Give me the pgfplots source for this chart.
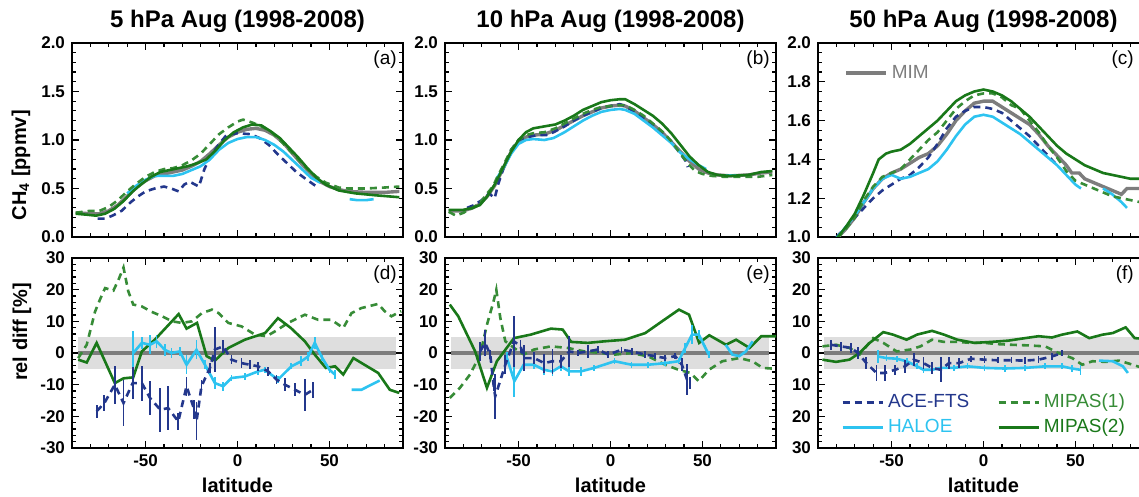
\documentclass[border=0pt]{standalone}
\usepackage{fontspec}
\setmainfont{Liberation Sans}
\usepackage{pgfplots}
\pgfplotsset{compat=1.18}

\definecolor{acecol}{RGB}{35,55,140}
\definecolor{halcol}{RGB}{45,195,240}
\definecolor{mip1col}{RGB}{55,140,55}
\definecolor{mip2col}{RGB}{25,120,25}
\definecolor{mimcol}{RGB}{125,125,125}
\definecolor{bandcol}{RGB}{222,222,222}

\pgfplotsset{
  panel/.style={
    scale only axis, width=165.5pt, anchor=north west,
    xmin=-90, xmax=90,
    xtick={-50,0,50},
    minor xtick={-90,-80,...,90},
    tick align=inside,
    major tick length=3.5pt, minor tick length=2pt,
    every tick/.style={black, line width=0.6pt},
    axis line style={line width=0.9pt},
    /pgf/number format/assume math mode=true,
    ticklabel style={font=\bfseries\fontsize{8.5}{9}\selectfont},
    label style={font=\bfseries\fontsize{10}{11}\selectfont},
    ylabel style={anchor=center},
    legend image code/.code={\draw[##1] (0pt,0pt) -- (20pt,0pt);},
    legend style={draw=none, fill=none, inner sep=0pt,
      font=\fontsize{9.5}{11}\selectfont},
    legend cell align=left,
  },
  toprow/.style={panel, height=97pt,
    ymin=0, ymax=2, ytick={0,0.5,1,1.5,2}, minor ytick={0,0.1,...,2},
    xticklabels={},
    yticklabel style={/pgf/number format/fixed, /pgf/number format/fixed zerofill,
      /pgf/number format/precision=1},
    title style={font=\bfseries\fontsize{12}{14}\selectfont,
      at={(axis description cs:0.5,1)}, anchor=base, yshift=1.5pt},
  },
  botrow/.style={panel, height=95pt,
    ymin=-30, ymax=30, ytick={-30,-20,...,30}, minor ytick={-30,-28,...,30},
    xlabel={latitude},
    xlabel style={at={(axis description cs:0.5,-0.232)}, anchor=base},
  },
  ace/.style={acecol, line width=1.3pt, dash pattern=on 3.5pt off 2.5pt, forget plot},
  hal/.style={halcol, line width=1.3pt, forget plot},
  mip1/.style={mip1col, line width=1.3pt, dash pattern=on 3.5pt off 2.5pt, forget plot},
  mip2/.style={mip2col, line width=1.3pt, forget plot},
  mim/.style={mimcol, line width=1.7pt, forget plot},
  ebar/.style={/pgfplots/error bars/y dir=both, /pgfplots/error bars/y explicit,
    /pgfplots/error bars/error mark=none,
    /pgfplots/error bars/error bar style={solid, line width=0.9pt}},
}
\newcommand{\plab}[2][0.982]{\node[anchor=north east, inner sep=0pt, font=\fontsize{9.5}{11}\selectfont]
  at (rel axis cs:#1,0.964) {#2};}
\newcommand{\band}{%
  \addplot[draw=none, fill=bandcol, forget plot] coordinates {(-87,-5) (86,-5) (86,5) (-87,5)} -- cycle;
  \addplot[mimcol, line width=1.6pt, forget plot] coordinates {(-87,0) (86,0)};}

\begin{document}
\begin{tikzpicture}

% ---------------- (a) 5 hPa
\begin{axis}[toprow, at={(0pt,0pt)}, title={5 hPa Aug (1998-2008)},
  ylabel={CH\textsubscript{4} [ppmv]}, ylabel style={at={(axis description cs:-0.154,0.37)}}]
\addplot[mim] coordinates {(-88,0.25)(-80,0.24)(-75,0.24)(-70,0.27)(-65,0.33)(-60,0.42)(-55,0.51)(-50,0.58)(-45,0.63)(-40,0.65)(-35,0.67)(-30,0.69)(-25,0.73)(-20,0.78)(-15,0.86)(-10,0.95)(-5,1.03)(0,1.08)(5,1.11)(10,1.12)(15,1.1)(20,1.05)(25,0.97)(30,0.86)(35,0.75)(40,0.65)(45,0.57)(50,0.52)(55,0.49)(60,0.47)(70,0.46)(80,0.46)(88,0.47)};
\addplot[ace] coordinates {(-76,0.19)(-72,0.19)(-68,0.22)(-63,0.27)(-58,0.36)(-54,0.42)(-50,0.47)(-45,0.5)(-40,0.52)(-36,0.5)(-32,0.47)(-29,0.54)(-26,0.57)(-23,0.54)(-21,0.52)(-18,0.7)(-15,0.82)(-10,0.96)(-6,1.05)(0,1.07)(7,1.06)(12,1.02)(17,0.95)(22,0.85)(27,0.76)(32,0.67)(37,0.6)(43,0.52)};
\addplot[hal] coordinates {(-60,0.45)(-55,0.53)(-50,0.59)(-45,0.63)(-40,0.63)(-35,0.63)(-30,0.65)(-25,0.69)(-20,0.73)(-15,0.8)(-10,0.9)(-5,0.97)(0,1.01)(5,1.03)(10,1.03)(15,1.0)(20,0.95)(25,0.88)(30,0.79)(35,0.7)(40,0.61)(45,0.56)};
\addplot[hal] coordinates {(61,0.39)(65,0.38)(70,0.38)(74,0.39)};
\addplot[mip1] coordinates {(-88,0.25)(-80,0.27)(-75,0.27)(-70,0.31)(-65,0.38)(-60,0.47)(-55,0.55)(-50,0.62)(-45,0.67)(-40,0.7)(-35,0.71)(-30,0.74)(-25,0.79)(-20,0.86)(-15,0.96)(-10,1.06)(-5,1.13)(0,1.19)(3,1.21)(8,1.18)(13,1.14)(18,1.09)(23,1.0)(28,0.9)(33,0.8)(38,0.7)(43,0.62)(48,0.56)(55,0.51)(60,0.5)(70,0.5)(80,0.51)(88,0.52)};
\addplot[mip2] coordinates {(-88,0.24)(-82,0.23)(-77,0.22)(-72,0.24)(-67,0.29)(-62,0.37)(-57,0.47)(-52,0.55)(-47,0.62)(-42,0.67)(-37,0.69)(-32,0.71)(-27,0.73)(-22,0.76)(-17,0.8)(-12,0.89)(-7,1.0)(-2,1.08)(3,1.13)(8,1.16)(13,1.15)(18,1.09)(23,1.02)(28,0.92)(33,0.82)(38,0.71)(43,0.61)(48,0.54)(55,0.48)(64,0.45)(75,0.43)(88,0.41)};
\plab{(a)}
\end{axis}

% ---------------- (b) 10 hPa
\begin{axis}[toprow, at={(186.5pt,0pt)}, title={10 hPa Aug (1998-2008)}]
\addplot[mim] coordinates {(-88,0.27)(-80,0.27)(-75,0.3)(-71,0.34)(-67,0.42)(-63,0.53)(-58,0.72)(-54,0.88)(-50,0.98)(-46,1.03)(-42,1.05)(-36,1.06)(-30,1.1)(-25,1.15)(-20,1.2)(-15,1.25)(-10,1.29)(-5,1.33)(0,1.35)(5,1.36)(8,1.35)(13,1.3)(18,1.23)(23,1.16)(28,1.08)(33,0.98)(38,0.88)(43,0.78)(48,0.7)(53,0.66)(58,0.64)(65,0.63)(75,0.64)(82,0.66)(88,0.67)};
\addplot[ace] coordinates {(-78,0.3)(-74,0.33)(-70,0.38)(-66,0.45)(-63,0.4)(-61,0.55)(-58,0.72)(-54,0.9)(-50,1.0)(-45,1.03)(-40,1.05)(-35,1.05)(-31,1.08)(-25,1.14)(-20,1.2)(-15,1.25)(-10,1.29)(-5,1.33)(0,1.35)(5,1.37)(8,1.35)(13,1.29)(18,1.22)(23,1.15)(28,1.07)(33,0.98)(38,0.86)(41,0.78)(42,0.72)};
\addplot[hal] coordinates {(-62,0.6)(-58,0.72)(-54,0.86)(-50,0.96)(-46,1.0)(-42,1.01)(-36,1.0)(-31,1.02)(-25,1.08)(-20,1.14)(-15,1.2)(-10,1.25)(-5,1.29)(0,1.31)(5,1.32)(8,1.31)(13,1.27)(18,1.2)(23,1.13)(28,1.05)(33,0.97)(38,0.87)(43,0.8)(48,0.74)(52,0.7)};
\addplot[hal] coordinates {(62,0.64)(68,0.64)(75,0.64)};
\addplot[mip1] coordinates {(-88,0.26)(-84,0.22)(-80,0.25)(-75,0.3)(-71,0.35)(-67,0.45)(-64,0.52)(-62,0.6)(-58,0.75)(-54,0.9)(-50,1.0)(-46,1.05)(-42,1.07)(-36,1.08)(-30,1.12)(-25,1.17)(-20,1.22)(-15,1.27)(-10,1.31)(-5,1.34)(0,1.35)(5,1.36)(8,1.36)(13,1.31)(18,1.25)(23,1.17)(28,1.09)(33,0.99)(38,0.86)(42,0.76)(46,0.68)(50,0.65)(55,0.63)(62,0.62)(70,0.62)(80,0.62)(88,0.64)};
\addplot[mip2] coordinates {(-88,0.28)(-80,0.28)(-75,0.3)(-71,0.33)(-67,0.42)(-63,0.54)(-58,0.73)(-54,0.88)(-50,1.0)(-46,1.08)(-42,1.12)(-36,1.14)(-30,1.16)(-25,1.2)(-20,1.25)(-15,1.31)(-10,1.35)(-5,1.39)(0,1.41)(5,1.42)(8,1.42)(13,1.37)(18,1.31)(23,1.25)(28,1.17)(33,1.07)(38,0.95)(43,0.83)(48,0.74)(53,0.67)(58,0.64)(65,0.63)(75,0.64)(82,0.67)(88,0.68)};
\plab{(b)}
\end{axis}

% ---------------- (c) 50 hPa
\begin{axis}[toprow, at={(373pt,0pt)}, title={50 hPa Aug (1998-2008)},
  ymin=1, ymax=2, ytick={1,1.2,1.4,1.6,1.8,2}, minor ytick={1,1.05,...,2},
  legend style={at={(axis description cs:0.0785,0.845)}, anchor=west}]
\addlegendimage{mimcol, line width=1.7pt}
\addlegendentry{\textcolor{mimcol}{MIM}}
\addplot[mim] coordinates {(-84,0.95)(-80,0.99)(-75,1.04)(-70,1.1)(-65,1.18)(-60,1.25)(-55,1.3)(-50,1.33)(-45,1.35)(-40,1.38)(-35,1.41)(-30,1.43)(-25,1.47)(-20,1.53)(-15,1.6)(-10,1.65)(-5,1.69)(0,1.7)(5,1.7)(10,1.67)(15,1.64)(20,1.61)(25,1.58)(30,1.53)(35,1.47)(40,1.42)(45,1.37)(48,1.33)(52,1.33)(55,1.3)(60,1.28)(65,1.26)(70,1.24)(75,1.22)(78,1.25)(85,1.25)(90,1.24)};
\addplot[ace] coordinates {(-84,0.95)(-80,1.0)(-75,1.05)(-70,1.1)(-65,1.15)(-60,1.2)(-55,1.24)(-50,1.27)(-45,1.3)(-40,1.32)(-35,1.36)(-30,1.41)(-25,1.48)(-20,1.56)(-15,1.62)(-10,1.65)(-5,1.67)(0,1.67)(5,1.66)(10,1.64)(15,1.6)(20,1.56)(25,1.52)(30,1.47)(35,1.42)(40,1.37)};
\addplot[hal] coordinates {(-84,0.95)(-75,1.05)(-70,1.11)(-65,1.18)(-60,1.25)(-55,1.3)(-50,1.32)(-45,1.3)(-40,1.31)(-35,1.33)(-30,1.35)(-25,1.39)(-20,1.45)(-15,1.52)(-10,1.58)(-5,1.62)(0,1.63)(5,1.62)(10,1.59)(15,1.56)(20,1.53)(25,1.49)(30,1.45)(35,1.41)(40,1.37)(45,1.32)(50,1.27)(53,1.25)};
\addplot[hal] coordinates {(65,1.25)(70,1.22)(75,1.18)(78,1.15)};
\addplot[mip1] coordinates {(-84,0.95)(-80,0.99)(-75,1.04)(-70,1.1)(-65,1.19)(-60,1.26)(-55,1.31)(-50,1.33)(-45,1.35)(-40,1.4)(-35,1.45)(-30,1.5)(-25,1.54)(-20,1.6)(-15,1.66)(-10,1.7)(-5,1.73)(0,1.74)(5,1.74)(10,1.72)(15,1.68)(20,1.66)(25,1.6)(30,1.54)(35,1.47)(40,1.41)(45,1.34)(50,1.29)(55,1.27)(60,1.25)(65,1.23)(70,1.21)(75,1.2)(80,1.19)(85,1.18)(90,1.18)};
\addplot[mip2] coordinates {(-84,0.95)(-80,0.99)(-75,1.05)(-70,1.12)(-65,1.22)(-60,1.33)(-57,1.4)(-53,1.43)(-50,1.44)(-45,1.45)(-40,1.48)(-35,1.52)(-30,1.56)(-25,1.6)(-20,1.65)(-15,1.7)(-10,1.73)(-5,1.75)(0,1.76)(5,1.75)(10,1.73)(15,1.7)(20,1.66)(25,1.62)(30,1.57)(35,1.52)(40,1.47)(45,1.43)(50,1.4)(55,1.37)(60,1.35)(65,1.33)(70,1.32)(75,1.31)(80,1.3)(85,1.3)(90,1.29)};
\plab[0.955]{(c)}
\end{axis}

% ---------------- (d) 5 hPa rel diff
\begin{axis}[botrow, at={(0pt,-107.5pt)},
  ylabel={rel diff [\%]}, ylabel style={at={(axis description cs:-0.151,0.61)}}]
\band
\addplot[mip1] coordinates {(-86.6,-1.6)(-82,2.6)(-77.5,13)(-74.7,17)(-72,20.5)(-67.5,19.7)(-64.8,23)(-62,27)(-59.4,19.5)(-56.7,15.3)(-52,14.7)(-46.7,13)(-41,11.6)(-35.6,10)(-30.2,9.5)(-24.8,10)(-19.3,12.6)(-13.9,13.7)(-10.3,12.6)(-5,9.5)(2.2,8.4)(9.5,5.8)(15.8,5.3)(20.3,6.8)(27.5,9.5)(36.6,12.1)(43.8,10.5)(51,10.5)(57.5,7.9)(62,12.6)(67.4,14.2)(76.5,15.5)(80,13.2)(83.7,11.6)(89,13.2)};
\addplot[mip2] coordinates {(-86.6,-2.1)(-82,-3)(-76.6,3.2)(-66.7,-9.5)(-62,-8)(-56.7,-7.7)(-52,0.5)(-45,4.2)(-32,12.3)(-27.7,7.7)(-22,9.5)(-16.8,-1)(-12.3,-2.4)(-5,1.6)(4,4.2)(15,6.3)(22,11)(29,7.9)(36.6,3.7)(42,-0.5)(48,-4.7)(53,-4.2)(57.5,-6.8)(63,-1.6)(69,-3.7)(76.5,-6.3)(82.8,-11.6)(88,-12.6)};
\addplot[hal, ebar] table[x index=0, y index=1, y error index=2] {
x y e
-56.7 0 7
-52 3.2 2
-47.6 2.6 3
-44 3.7 2
-39.5 1 2
-35.9 0 1.5
-31.4 0.5 1.5
-27.7 -3.7 3
-22.3 1 3
-17.7 -3.7 1.5
-12.3 -9.5 2
-7.8 -10.5 1.5
-3.3 -7.9 1
4 -7.4 1
11.2 -5.8 1
14.8 -5.3 1
22 -8.4 1
29.3 -4.2 1
34.7 -2.6 1.5
38.4 -1.1 1.5
42 3.2 2
46 -1.5 1
50 -5.3 1
53 -6.8 1.5
};
\addplot[hal] coordinates {(62,-11.6)(67.4,-11.6)(72.8,-10)(77.3,-8.7)};
\addplot[ace, ebar] table[x index=0, y index=1, y error index=2] {
x y e
-76.6 -18.4 2
-72.4 -15.8 2.6
-66.7 -10 6
-62 -15.8 7.3
-57 -9.5 5
-52 -9.5 5.5
-47.6 -14.2 5.5
-42 -17.9 7
-37.7 -17.4 7
-32.2 -21.6 2.6
-27.7 -10.5 3
-23.5 -17.9 3
-22.3 -21.6 6
-19.6 -10.5 2
-15 -4.7 1.5
-12.3 1.1 7
-7.8 2.1 2
-3.3 -2.1 1.5
2.2 -3.2 1.5
6.7 -3.7 1.5
11.2 -4.2 1.5
16.7 -5.8 1.5
21.2 -8.4 1.5
25.7 -10 2
31.2 -11.6 2
36.6 -13.2 5
41.1 -11.6 2.5
};
\plab{(d)}
\end{axis}

% ---------------- (e) 10 hPa rel diff
\begin{axis}[botrow, at={(186.5pt,-107.5pt)}]
\band
\addplot[mip1] coordinates {(-87.4,-14.2)(-81.9,-11)(-76.4,-6.8)(-70.9,-0.5)(-67.2,8.9)(-63.6,16.3)(-62.1,20)(-59.9,11)(-57.2,3.7)(-52.5,1.6)(-47.1,-0.5)(-41.6,1.1)(-32.4,2.1)(-23.3,1.6)(-14.1,0.5)(-5,0)(2.3,-0.5)(11.5,0)(20.6,-1.1)(29.7,-3.7)(37,-5.3)(43.4,-6.3)(48,-8.9)(53.5,-5.3)(60.8,-2.6)(70,-1.6)(77.2,-2.6)(82.7,-4.7)(90,-5)};
\addplot[mip2] coordinates {(-87.4,15.3)(-82.8,11.6)(-73.6,0.5)(-67.2,-11)(-61.8,-2.6)(-52.5,4.7)(-43.4,5.8)(-32.4,7.7)(-26,7.4)(-21.4,3.5)(-12.3,3.2)(-3.1,3.7)(7.9,4.2)(18.9,6.3)(28,10)(37.2,13.7)(42.7,12.1)(48.2,3.2)(53.7,5.6)(62.8,2.6)(68.3,4.2)(75.6,1.6)(82,5.3)(90,5.3)};
\addplot[hal, ebar] table[x index=0, y index=1, y error index=2] {
x y e
-56.3 -1.6 2
-52.3 -8.9 5
-47.2 -3.7 2
-41.7 -3.7 1.5
-36.2 -5.3 1.5
-31.6 -5.8 1.5
-27 -4.2 1.5
-22.5 -5.8 1.5
-16.1 -5.8 1.5
-8.8 -4.7 1
2.2 -2.6 1
11.4 -3.7 1
20.5 -3.7 1
29.7 -3.2 1
37 -2.6 1
40.6 1.6 1.5
44.3 5.8 3
48 5.8 1.5
51.6 1.6 1
53.4 -0.5 1
};
\addplot[hal] coordinates {(62.6,2.6)(66.3,-0.5)(70,-1)(73.6,0.5)(77.3,3.7)};
\addplot[ace, ebar] table[x index=0, y index=1, y error index=2] {
x y e
-70.9 0.5 3
-68.2 3.2 4
-65.4 -0.5 1.5
-63.6 -10 2
-62.7 -13.7 7
-57.2 -3.7 3
-52.5 3.7 8
-48.9 2.1 2
-47 -1.6 4
-41.6 -1.6 2
-36 -3.2 3
-31.6 -2.6 4
-27 -2.6 2
-22.4 0.5 5
-17.8 0 1
-12.3 0.5 2
-6.8 1.1 1
-1.3 -0.5 1
6 1 1
11.5 0.5 1
18.8 -0.5 1
24.3 -1 1
29.7 -1.6 1
35.2 -1 1
38.8 -3.7 2
41.6 -8.4 5
43.4 -9.5 2
};
\plab{(e)}
\end{axis}

% ---------------- (f) 50 hPa rel diff
\begin{axis}[botrow, at={(373pt,-107.5pt)},
  yticklabels={30,20,10,0,10,20,30},
  legend columns=2,
  legend style={at={(axis description cs:0.0695,0.174)}, anchor=west,
    /tikz/every even column/.append style={column sep=12pt}}]
\addlegendimage{acecol, line width=1.3pt, dash pattern=on 3.5pt off 2.5pt}
\addlegendentry{\textcolor{acecol}{ACE-FTS}}
\addlegendimage{mip1col, line width=1.3pt, dash pattern=on 3.5pt off 2.5pt}
\addlegendentry{\textcolor{mip1col}{MIPAS(1)}}
\addlegendimage{halcol, line width=1.3pt}
\addlegendentry{\textcolor{halcol}{HALOE}}
\addlegendimage{mip2col, line width=1.3pt}
\addlegendentry{\textcolor{mip2col}{MIPAS(2)}}
\band
\addplot[mip1] coordinates {(-87.6,2.1)(-80.2,2.6)(-72.9,1.6)(-67.4,-0.5)(-60,4.7)(-54.5,3.2)(-47.2,0.5)(-39.8,1.1)(-34.3,2.1)(-28,4.2)(-21.5,3.5)(-14.2,3.5)(-6.8,3.2)(0.5,3.2)(7.8,2.8)(15.2,2.6)(24.3,2.4)(33.5,2.1)(40.8,0)(48.2,-1.6)(53.7,-3.7)(59.2,-2.6)(66.5,-2.8)(73.8,-2.4)(81.1,-3.7)(86.4,-4.7)(90,-4.8)};
\addplot[mip2] coordinates {(-87.6,-2.1)(-80.2,-2.8)(-72.9,-2.1)(-67.4,0)(-61.9,3.2)(-54.5,6.6)(-49.2,5.8)(-41.8,4.2)(-36.2,5.8)(-28,7)(-21.5,5.8)(-14.2,4.2)(-5,3.2)(4.2,3.5)(13.4,3.9)(22.6,4.7)(29.9,5.3)(37.2,4.9)(42.7,5.8)(51,6.8)(57.5,4.7)(64.8,5.8)(70.3,6.3)(77.3,8.1)(82.2,4.7)(86.6,4.5)(90,4.5)};
\addplot[hal, ebar] table[x index=0, y index=1, y error index=2] {
x y e
-57.3 -1.1 2
-52.8 -1.6 1
-47.2 -1.8 1
-41.8 -2.6 1
-36.2 -4.2 1
-32.6 -5.3 1
-28 -5.3 1
-23.3 -4.7 2
-16 -4.7 1
-8.7 -4.2 1
0.5 -4.7 1
11.5 -4.9 1
22.6 -4.7 1
33.5 -4.2 1
42.7 -4.2 1
48.2 -4.9 1
52.7 -5.3 1.5
};
\addplot[hal] coordinates {(62.8,-2.4)(70.3,-2.6)(75.8,-4.2)(78.5,-6.3)};
\addplot[ace, ebar] table[x index=0, y index=1, y error index=2] {
x y e
-83 2.6 1.5
-77.5 2.1 1.5
-72 1.6 1.5
-68.2 0 2
-63.7 -3.2 2
-58.2 -6.3 2.5
-53.6 -6.3 2.5
-48.1 -5.3 1.5
-42.6 -4.2 2
-38 -2.1 2
-32.6 -3.2 2
-28 -4.7 2
-23.3 -5.3 4
-18.8 -3.2 2
-13.3 -3.2 1.5
-6.8 -1.8 1
0.5 -2.1 1
7.8 -2.3 1
15.2 -2.3 1
22.6 -2.4 1
29.9 -2.1 1
37.2 -1.1 1
42.7 0 1
};
\plab[0.955]{(f)}
\end{axis}

\pgfresetboundingbox
\useasboundingbox (-36pt,21.5pt) rectangle (533.5pt,-227pt);
\end{tikzpicture}
\end{document}
